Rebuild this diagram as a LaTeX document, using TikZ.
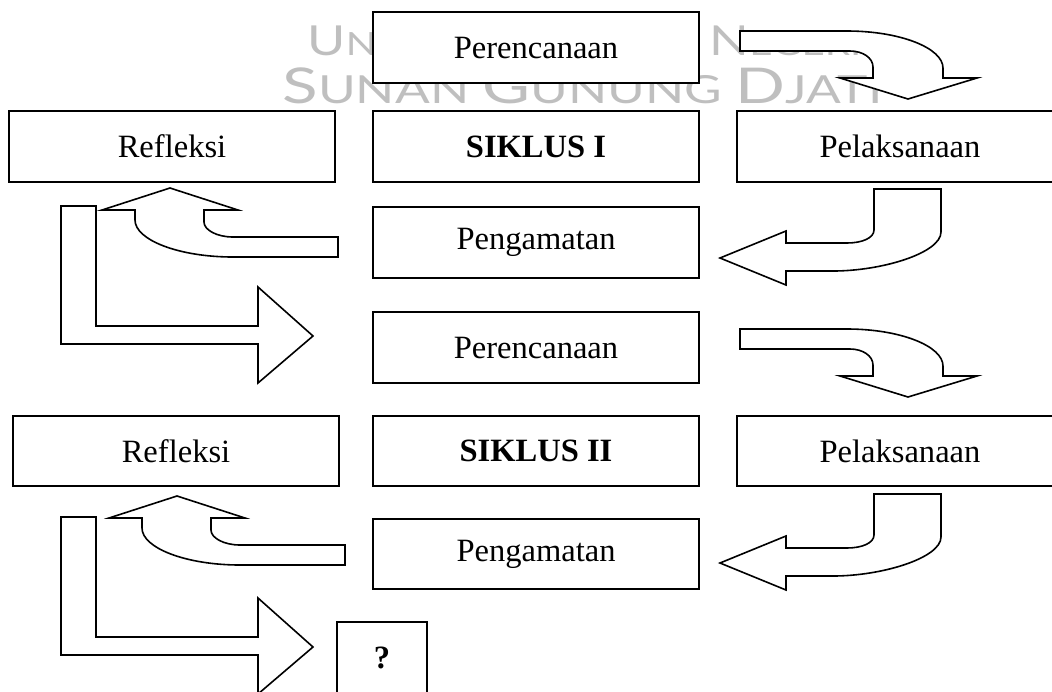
\documentclass[tikz,border=0pt]{standalone}
\usepackage{fontspec}
\setmainfont{Liberation Serif}
\newfontfamily\wmfont{Lato}
% small caps of the watermark, made by hand
\newcommand{\wmA}[2]{{\fontsize{15.5}{16}\selectfont #1}{\fontsize{12}{12}\selectfont #2}}
\newcommand{\wmB}[2]{{\fontsize{18.5}{19}\selectfont #1}{\fontsize{14.5}{15}\selectfont #2}}
\begin{document}
\begin{tikzpicture}[x=0.375pt,y=-0.375pt,
  box/.style={draw,fill=white,line width=0.75pt,minimum width=121.9pt,
    minimum height=26.6pt,inner sep=0pt,font=\fontsize{12.2}{14}\selectfont},
  qbox/.style={box,minimum width=33.8pt},
  blockarrow/.style={draw,fill=white,line width=0.6pt,line join=miter},
  watermark/.style={text=black!25,inner sep=0pt,anchor=base west}]
\useasboundingbox (0,0) rectangle (1052,691);
\clip (0,0) rectangle (1052,691);
\fill[white] (0,0) rectangle (1052,691);
% watermark
\node[watermark,font=\wmfont\fontsize{12}{12}\selectfont] (wmtop) at (307,55)
  {\scalebox{1.26}[1]{\wmA{U}{NIVERSITAS} \wmA{I}{SLAM} \wmA{N}{EGERI}}};
\node[watermark,font=\wmfont\fontsize{14.5}{15}\selectfont] (wmbot) at (282,103)
  {\scalebox{1.33}[1]{\wmB{S}{UNAN} \wmB{G}{UNUNG} \wmB{D}{JATI}}};
% siklus I
\node[box] (per1) at (536,47.5) {Perencanaan};
\node[box] (ref1) at (172,146.5) {Refleksi};
\node[box] (sik1) at (536,146.5) {\textbf{SIKLUS I}};
\node[box] (pel1) at (900,146.5) {Pelaksanaan};
\node[box] (pen1) at (536,242.5) {Pengamatan};
% siklus II
\node[box] (per2) at (536,347.5) {Perencanaan};
\node[box] (ref2) at (176,451) {Refleksi};
\node[box] (sik2) at (536,451) {\textbf{SIKLUS II}};
\node[box] (pel2) at (900,451) {Pelaksanaan};
\node[box] (pen2) at (536,554) {Pengamatan};
\node[qbox] (next) at (382,657.5) {\textbf{?}};
% perencanaan -> pelaksanaan
\foreach \dy in {0,298} {
  \draw[blockarrow,shift={(0,\dy)}] (740,31) -- (847,31)
    .. controls (900,31) and (943,48) .. (943,68) -- (943,78) -- (977,78)
    -- (908,99) -- (840,78) -- (873,78) -- (873,67)
    .. controls (873,58) and (863,51) .. (850,51) -- (740,51) -- cycle;
}
% pelaksanaan -> pengamatan
\foreach \dy in {0,305} {
  \draw[blockarrow,shift={(0,\dy)}] (874,189) -- (941,189) -- (941,232)
    .. controls (941,253) and (882,271) .. (833,271) -- (786,271)
    -- (786,285) -- (720,258) -- (786,231) -- (786,243) -- (847,243)
    .. controls (862,243) and (874,238) .. (874,230) -- cycle;
}
% pengamatan -> refleksi
\foreach \dx/\dy in {0/0,7/308} {
  \draw[blockarrow,shift={(\dx,\dy)}] (338,237) -- (233,237)
    .. controls (217,237) and (204,230) .. (204,222) -- (204,210)
    -- (238,210) -- (170,188) -- (102,210) -- (135,210) -- (135,220)
    .. controls (135,240) and (179,257) .. (233,257) -- (338,257) -- cycle;
}
% refleksi -> next cycle
\foreach \dy in {0,311} {
  \draw[blockarrow,shift={(0,\dy)}] (61,206) -- (96,206) -- (96,326)
    -- (258,326) -- (258,287) -- (313,336) -- (258,383) -- (258,344)
    -- (61,344) -- cycle;
}
\end{tikzpicture}
\end{document}
